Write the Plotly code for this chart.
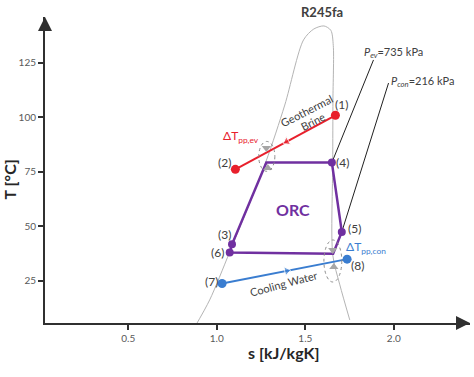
import numpy as np
import plotly.graph_objects as go

FONT = "Lato"
GREY_TXT = "#404040"
RED = "#e8202c"
PURPLE = "#7030a0"
BLUE = "#3a7dd0"
DOME = "#b4b4b4"

# Saturation dome of R245fa (s in kJ/kgK, T in degC)
dome_s = [0.876, 0.96, 1.073, 1.277, 1.384, 1.49, 1.548, 1.605, 1.644, 1.658, 1.656, 1.655, 1.655, 1.695, 1.751]
dome_T = [3.9, 16.3, 38.3, 79.6, 105.7, 135.6, 140.6, 142.0, 140.0, 133.0, 108.0, 79.6, 36.9, 23.2, 7.1]

# Geothermal brine: state (1) -> state (2)
brine_s = [1.67, 1.105]
brine_T = [101.0, 76.2]

# Cooling water: state (7) -> state (8)
cw_s = [1.03, 1.736]
cw_T = [23.8, 35.0]

# ORC cycle path: (4) -> (5) -> condenser dew point -> (6) -> (3) -> evaporator bubble point -> (4)
orc_s = [1.65, 1.706, 1.657, 1.073, 1.086, 1.28, 1.65]
orc_T = [79.3, 47.5, 37.5, 38.0, 41.8, 79.3, 79.3]

# Labelled ORC states
orc_pts = ["(3)", "(4)", "(5)", "(6)"]
orc_pts_s = [1.086, 1.65, 1.706, 1.073]
orc_pts_T = [41.8, 79.3, 47.5, 38.0]

# Isobar guide lines (from state point up to the label)
pev_s = [1.65, 1.885]
pev_T = [79.3, 126.4]
pcon_s = [1.706, 1.97]
pcon_T = [47.5, 115.8]

x_ticks = [0.5, 1.0, 1.5, 2.0]
x_ticktext = ["0.5", "1.0", "1.5", "2.0"]
y_ticks = [25, 50, 75, 100, 125]

fig = go.Figure()

fig.add_trace(go.Scatter(x=dome_s, y=dome_T, mode="lines",
                         line=dict(color=DOME, width=1, shape="spline", smoothing=0.8),
                         hoverinfo="skip"))

fig.add_trace(go.Scatter(x=pev_s, y=pev_T, mode="lines", line=dict(color="#202020", width=1)))
fig.add_trace(go.Scatter(x=pcon_s, y=pcon_T, mode="lines", line=dict(color="#202020", width=1)))


def stream(xs, ys, color, frac):
    """Line between two states with a direction arrow part way along."""
    xm = xs[0] + frac * (xs[1] - xs[0])
    ym = ys[0] + frac * (ys[1] - ys[0])
    fig.add_trace(go.Scatter(
        x=[xs[0], xm, xs[1]], y=[ys[0], ym, ys[1]], mode="lines+markers",
        line=dict(color=color, width=2),
        marker=dict(color=color, size=[0, 8, 0], symbol="triangle-up",
                    angleref="previous", angle=0),
    ))
    fig.add_trace(go.Scatter(x=xs, y=ys, mode="markers",
                             marker=dict(color=color, size=9, symbol="circle")))


stream(brine_s, brine_T, RED, 0.487)
stream(cw_s, cw_T, BLUE, 0.517)

fig.add_trace(go.Scatter(x=orc_s, y=orc_T, mode="lines",
                         line=dict(color=PURPLE, width=2.5)))
fig.add_trace(go.Scatter(x=orc_pts_s, y=orc_pts_T, mode="markers",
                         marker=dict(color=PURPLE, size=8)))

# Pinch-point markers (grey triangles)
fig.add_trace(go.Scatter(x=[1.28, 1.655], y=[86.0, 39.2], mode="markers",
                         marker=dict(symbol="triangle-down", size=8, color="#a6a6a6")))
fig.add_trace(go.Scatter(x=[1.288, 1.661], y=[76.8, 31.4], mode="markers",
                         marker=dict(symbol="triangle-up", size=8, color="#a6a6a6")))

shapes = [
    dict(type="circle", xref="x", yref="y", x0=1.237, x1=1.328, y0=75.3, y1=89.0,
         line=dict(color="#8c8c8c", width=1, dash="dot")),
    dict(type="circle", xref="x", yref="y", x0=1.605, x1=1.706, y0=24.5, y1=43.8,
         line=dict(color="#8c8c8c", width=1, dash="dot")),
]

ann = []


def label(text, x, y, dx, dy, size=12, color=GREY_TXT, **kw):
    ann.append(dict(text=text, x=x, y=y, xref="x", yref="y", showarrow=False,
                    xshift=dx, yshift=dy, font=dict(family=FONT, size=size, color=color), **kw))


label("(1)", brine_s[0], brine_T[0], 6, 11)
label("(2)", brine_s[1], brine_T[1], -11, 7)
label("(7)", cw_s[0], cw_T[0], -11, 2)
label("(8)", cw_s[1], cw_T[1], 10, -6)
for name, xs, ys, d in zip(orc_pts, orc_pts_s, orc_pts_T,
                           [(-8, 10), (11, 0), (13, 3), (-12, 0)]):
    label(name, xs, ys, d[0], d[1])

label("<b>ORC</b>", 1.43, 57.6, 0, 0, size=16, color=PURPLE)
label("Geothermal", 1.508, 103.4, 0, 0, size=11, textangle=-27)
label("Brine", 1.542, 98.2, 0, 0, size=11, textangle=-27)
label("Cooling Water", 1.377, 23.6, 0, 0, size=11, textangle=-15)
label("\u0394T<sub>pp,ev</sub>", 1.136, 91.5, 0, 0, size=12, color=RED)
label("\u0394T<sub>pp,con</sub>", 1.84, 40.5, 0, 0, size=12, color=BLUE)
label("<i>P<sub>ev</sub></i>=735 kPa", pev_s[1] - 0.066, pev_T[1] + 3.5, 0, 0, size=11,
      xanchor="left")
label("<i>P<sub>con</sub></i>=216 kPa", pcon_s[1], pcon_T[1] + 0.5, 0, 0, size=11,
      xanchor="left")
label("<b>R245fa</b>", 1.593, 142.0, 0, 4, size=13, yanchor="bottom")

# Axis titles
ann.append(dict(text="<b>s [kJ/kgK]</b>", xref="paper", yref="paper", x=0.56, y=-0.134,
                showarrow=False, font=dict(family=FONT, size=16, color="#262626")))
ann.append(dict(text="<b>T [\u00b0C]</b>", xref="paper", yref="paper", x=-0.084, y=0.47,
                xanchor="center", yanchor="middle",
                showarrow=False, textangle=-90,
                font=dict(family=FONT, size=16, color="#262626")))

# Arrow heads on both axes
ann.append(dict(text="", xref="paper", yref="paper", x=1, y=0, ax=-14, ay=0,
                showarrow=True, arrowhead=2, arrowsize=1.4, arrowwidth=2,
                arrowcolor="#303030", standoff=0))
ann.append(dict(text="", xref="paper", yref="paper", x=0, y=1, ax=0, ay=14,
                showarrow=True, arrowhead=2, arrowsize=1.4, arrowwidth=2,
                arrowcolor="#303030", standoff=0))

axis_common = dict(showgrid=False, zeroline=False, showline=True, linecolor="#303030",
                   linewidth=2, ticks="outside", ticklen=5, tickwidth=1.5,
                   tickcolor="#303030",
                   tickfont=dict(family=FONT, size=10, color="#595959"))

fig.update_layout(
    width=474, height=377, autosize=False,
    margin=dict(l=45, r=4, t=17, b=54, pad=0),
    paper_bgcolor="white", plot_bgcolor="white",
    showlegend=False,
    xaxis=dict(range=[0.03, 2.43], tickvals=x_ticks, ticktext=x_ticktext, **axis_common),
    yaxis=dict(range=[5.7, 146.1], tickvals=y_ticks, **axis_common),
    shapes=shapes, annotations=ann,
)

fig.write_html("out.html")
